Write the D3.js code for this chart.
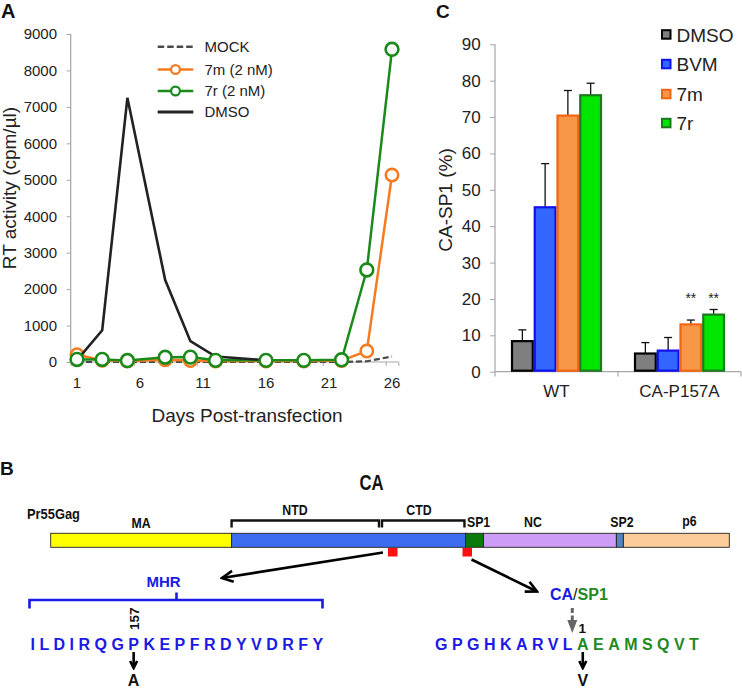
<!DOCTYPE html>
<html><head><meta charset="utf-8">
<script src="https://cdn.jsdelivr.net/npm/d3@7"></script>
<style>
body{margin:0;background:#fff;}
svg{display:block;font-family:"Liberation Sans",Arial,Helvetica,sans-serif;}
</style></head><body>
<svg id="chart" width="742" height="689"></svg>
<script>
// ---------- Panel A data ----------
const sampleDays = [1,3,5,8,10,12,16,19,22,24,26];
const mockRT = [0,0,0,0,0,0,0,0,0,20,150];
const rt7m = [200,50,30,60,40,30,30,30,40,300,5130];
const rt7r = [70,70,40,130,135,45,45,45,60,2525,8580];
const dmsoDays = [1,3,5,8,10,12,16];
const dmsoRT = [50,870,7250,2250,570,150,50];
const dayTickLabels = [1,6,11,16,21,26];
const dayTickMarks = [0.5,5.5,10.5,15.5,20.5,25.5,26.5];
const rtTicks = [0,1000,2000,3000,4000,5000,6000,7000,8000,9000];
const legendA = ["MOCK","7m (2 nM)","7r (2 nM)","DMSO"];

// ---------- Panel C data ----------
const cCategories = ["WT","CA-P157A"];
const cSeries = ["DMSO","BVM","7m","7r"];
const caDMSO = [8.4, 5.0];
const caBVM  = [45.2, 5.8];
const ca7m   = [70.4, 13.0];
const ca7r   = [76.0, 15.7];
const errDMSO = [3.1, 3.0];
const errBVM  = [12.0, 3.6];
const err7m   = [6.9, 1.2];
const err7r   = [3.3, 1.4];
const sigP157A = ["", "", "**", "**"];
const cTicks = [0,10,20,30,40,50,60,70,80,90];

// ---------- Panel B data ----------
const gagDomains = ["MA","CA","SP1","NC","SP2","p6"];
const gagLengths = [181,234,18,133,7,106];
const mhrSeq = "ILDIRQGPKEPFRDYVDRFY";
const seqCA = "GPGHKARVL";
const seqSP1 = "AEAMSQVT";

const svg = d3.select("#chart");
const FONT = '"Liberation Sans",Arial,Helvetica,sans-serif';

// markers
const defs = svg.append("defs");
function mk(id, size, color, sw){
  defs.append("marker").attr("id",id).attr("viewBox",`0 0 ${size} ${size}`)
    .attr("refX",size-2).attr("refY",size/2).attr("markerWidth",size).attr("markerHeight",size)
    .attr("markerUnits","userSpaceOnUse").attr("orient","auto")
    .append("path").attr("d",`M2,2 L${size-2},${size/2} L2,${size-2}`)
    .attr("fill","none").attr("stroke",color).attr("stroke-width",sw).attr("stroke-linejoin","miter");
}
mk("arrBig",15,"#000",2.6);
mk("arrSmall",11,"#000",2.6);

// ================= PANEL A =================
const xA = d3.scaleLinear().domain([0.5,26.5]).range([70.7,398.3]);
const yA = d3.scaleLinear().domain([0,9000]).range([362,34]);
const gA = svg.append("g");
gA.append("text").text("A").attr("x",1).attr("y",18).attr("font-weight","bold").attr("font-size",20).attr("fill","#111");

const axYA = gA.append("g").attr("transform","translate(70.7,0)")
  .call(d3.axisLeft(yA).tickValues(rtTicks).tickSize(4).tickPadding(9.7).tickFormat(d3.format("d")));
const axXA = gA.append("g").attr("transform","translate(0,362)")
  .call(d3.axisBottom(xA).tickValues(dayTickMarks).tickSize(4).tickFormat(""));
[axYA,axXA].forEach(a=>{a.select(".domain").attr("stroke","#a6a6a6").attr("stroke-width",1.2);
  a.selectAll(".tick line").attr("stroke","#a6a6a6");
  a.selectAll("text").attr("font-size",15).attr("fill","#222").attr("font-family",FONT);});
axXA.select(".domain").attr("d",`M${xA(0.5)},0H${xA(26.5)}`);
axYA.select(".domain").attr("d",`M0,${yA(9000)}V${yA(0)}`);
gA.selectAll(".xl").data(dayTickLabels).enter().append("text")
  .attr("x",d=>xA(d)).attr("y",388).attr("text-anchor","middle").attr("font-size",15).attr("fill","#222").text(d=>d);

gA.append("text").attr("transform","translate(15.5,188) rotate(-90)").attr("text-anchor","middle")
  .attr("font-size",19).attr("fill","#222").text("RT activity (cpm/µl)");
gA.append("text").attr("x",247).attr("y",422).attr("text-anchor","middle")
  .attr("font-size",19).attr("fill","#222").text("Days Post-transfection");

const lineA = d3.line().x(d=>xA(d[0])).y(d=>yA(d[1]));
const colA = {mock:"#4a4a4a", m:"#f47b20", r:"#1b8a1b", dmso:"#222"};
// MOCK
gA.append("path").attr("d",lineA(sampleDays.map((d,i)=>[d,mockRT[i]])))
  .attr("fill","none").attr("stroke",colA.mock).attr("stroke-width",2.2).attr("stroke-dasharray","6,3");
// 7m
gA.append("path").attr("d",lineA(sampleDays.map((d,i)=>[d,rt7m[i]])))
  .attr("fill","none").attr("stroke",colA.m).attr("stroke-width",2.5);
gA.selectAll(".c7m").data(sampleDays).enter().append("circle")
  .attr("cx",d=>xA(d)).attr("cy",(d,i)=>yA(rt7m[i])).attr("r",6.2)
  .attr("fill","#fff").attr("stroke",colA.m).attr("stroke-width",2.6);
// 7r
gA.append("path").attr("d",lineA(sampleDays.map((d,i)=>[d,rt7r[i]])))
  .attr("fill","none").attr("stroke",colA.r).attr("stroke-width",2.5);
// DMSO
gA.append("path").attr("d",lineA(dmsoDays.map((d,i)=>[d,dmsoRT[i]])))
  .attr("fill","none").attr("stroke",colA.dmso).attr("stroke-width",2.6);
gA.selectAll(".c7r").data(sampleDays).enter().append("circle")
  .attr("cx",d=>xA(d)).attr("cy",(d,i)=>yA(rt7r[i])).attr("r",6.4)
  .attr("fill","#fff").attr("stroke",colA.r).attr("stroke-width",2.6);

// legend A
const legRowsA = [46.7,69.5,91,112];
legendA.forEach((name,i)=>{
  const y = legRowsA[i];
  const col = [colA.mock,colA.m,colA.r,colA.dmso][i];
  const l = gA.append("line").attr("x1",157.7).attr("x2",193.3).attr("y1",y).attr("y2",y)
    .attr("stroke",col).attr("stroke-width",i===3?2.8:2.4);
  if(i===0) l.attr("stroke-dasharray","6.5,3");
  if(i===1||i===2) gA.append("circle").attr("cx",175.5).attr("cy",y).attr("r",4.4)
    .attr("fill","#fff").attr("stroke",col).attr("stroke-width",2.2);
  gA.append("text").attr("x",204.5).attr("y",y).attr("dy","0.36em").attr("font-size",15)
    .attr("fill","#222").text(name);
});

// ================= PANEL C =================
const gC = svg.append("g");
gC.append("text").text("C").attr("x",436).attr("y",18).attr("font-weight","bold").attr("font-size",19).attr("fill","#111");
const x0C = d3.scaleBand().domain(cCategories).range([495,741]);
const x1C = d3.scaleBand().domain(cSeries).range([16,107]);
const yC = d3.scaleLinear().domain([0,90]).range([371.7,44.3]);
const axYC = gC.append("g").attr("transform","translate(495,0)")
  .call(d3.axisLeft(yC).tickValues(cTicks).tickSize(5).tickPadding(9.3));
const axXC = gC.append("g").attr("transform","translate(0,371.7)")
  .call(d3.axisBottom(x0C).tickSize(0).tickFormat(""));
[axYC,axXC].forEach(a=>{a.select(".domain").attr("stroke","#a6a6a6").attr("stroke-width",1.2);
  a.selectAll(".tick line").attr("stroke","#a6a6a6");
  a.selectAll("text").attr("font-size",17).attr("fill","#222").attr("font-family",FONT);});
axYC.select(".domain").attr("d",`M0,${yC(90)}V${yC(0)}`);
axXC.select(".domain").attr("d",`M495,0H741`);
gC.selectAll(".xt").data([x0C.range()[0], x0C("CA-P157A"), x0C.range()[1]]).enter().append("line")
  .attr("x1",d=>d).attr("x2",d=>d).attr("y1",371.7).attr("y2",376.5).attr("stroke","#a6a6a6").attr("stroke-width",1.2);
gC.selectAll(".cl").data(cCategories).enter().append("text")
  .attr("x",d=>x0C(d)+x0C.bandwidth()/2).attr("y",396.7).attr("text-anchor","middle")
  .attr("font-size",17).attr("fill","#222").text(d=>d);
gC.append("text").attr("transform","translate(452,200) rotate(-90)").attr("text-anchor","middle")
  .attr("font-size",19).attr("fill","#222").text("CA-SP1 (%)");

const valsC = [caDMSO,caBVM,ca7m,ca7r];
const errsC = [errDMSO,errBVM,err7m,err7r];
const fillC = ["#7f7f7f","#3366ff","#f79646","#00e600"];
const strokeC = ["#000","#1010f0","#f26510","#1c7a1c"];
const sigTop = d3.max(cSeries.map((s,si)=>sigP157A[si] ? valsC[si][1]+errsC[si][1] : 0));
cCategories.forEach((cat,ci)=>{
  cSeries.forEach((s,si)=>{
    const v = valsC[si][ci], e = errsC[si][ci];
    const bx = x0C(cat)+x1C(s), bw = x1C.bandwidth();
    const cx = bx+bw/2;
    gC.append("line").attr("x1",cx).attr("x2",cx).attr("y1",yC(v)).attr("y2",yC(v+e)).attr("stroke","#111").attr("stroke-width",1.3);
    gC.append("line").attr("x1",cx-4).attr("x2",cx+4).attr("y1",yC(v+e)).attr("y2",yC(v+e)).attr("stroke","#111").attr("stroke-width",1.3);
    gC.append("rect").attr("x",bx+1).attr("y",yC(v)).attr("width",bw-2).attr("height",yC(0)-yC(v)-1)
      .attr("fill",fillC[si]).attr("stroke",strokeC[si]).attr("stroke-width",2.2);
    if(ci===1 && sigP157A[si]){
      gC.append("text").attr("x",cx).attr("y",yC(sigTop)-6).attr("text-anchor","middle")
        .attr("font-size",14).attr("fill","#222").text(sigP157A[si]);
    }
  });
});
// legend C
const legRowsC = [34.7,64.3,94.3,123.3];
cSeries.forEach((s,i)=>{
  gC.append("rect").attr("x",662).attr("y",legRowsC[i]-4.5).attr("width",8.5).attr("height",8.5)
    .attr("fill",fillC[i]).attr("stroke",strokeC[i]).attr("stroke-width",2);
  gC.append("text").attr("x",676.5).attr("y",legRowsC[i]).attr("dy","0.36em").attr("font-size",19)
    .attr("fill","#222").text(s);
});

// ================= PANEL B =================
const gB = svg.append("g");
gB.append("text").text("B").attr("x",0).attr("y",475).attr("font-weight","bold").attr("font-size",19).attr("fill","#111");
function lbl(t,x,y,fs,anchor,sx){
  return gB.append("text").attr("transform",`translate(${x},${y}) scale(${sx||1},1)`)
    .attr("text-anchor",anchor||"middle").attr("font-weight","bold").attr("font-size",fs).attr("fill","#111").text(t);
}
lbl("CA",371.5,490,22,"middle",0.76);
lbl("Pr55Gag",27,519,14,"start",0.92);
lbl("NTD",295,515,14,"middle",0.88);
lbl("CTD",419,515,14,"middle",0.88);

const cum = gagLengths.reduce((a,l)=>{a.push(a[a.length-1]+l);return a;},[0]);
const xB = d3.scaleLinear().domain([0,cum[cum.length-1]]).range([50.7,729.3]);
const gagFill = ["#ffff00","#3d6cf0","#0a7a0a","#cc9cf6","#5383c0","#fccd9b"];
const barY = 533.3, barH = 14;
gagDomains.forEach((d,i)=>{
  gB.append("rect").attr("x",xB(cum[i])).attr("y",barY).attr("width",xB(cum[i+1])-xB(cum[i])).attr("height",barH)
    .attr("fill",gagFill[i]).attr("stroke","#222").attr("stroke-width",0.9);
});
lbl("MA",(xB(cum[0])+xB(cum[1]))/2,528,14,"middle",0.88);
lbl("SP1",xB(cum[2])+1.5,527,14,"start",0.88);
lbl("NC",(xB(cum[3])+xB(cum[4]))/2-17,527,14,"middle",0.88);
lbl("SP2",(xB(cum[4])+xB(cum[5]))/2+2,527,14,"middle",0.88);
lbl("p6",(xB(cum[5])+xB(cum[6]))/2+13,526,14,"middle",0.88);

// NTD / CTD brackets
const caStart = xB(cum[1]), caEnd = xB(cum[2]);
const brkY = 520.5;
gB.append("path").attr("d",`M${caStart},${brkY+7}V${brkY}H${379}V${brkY+7}`)
  .attr("fill","none").attr("stroke","#111").attr("stroke-width",2.4);
gB.append("path").attr("d",`M${382},${brkY+7}V${brkY}H${caEnd-1}V${brkY+7}`)
  .attr("fill","none").attr("stroke","#111").attr("stroke-width",2.4);

// red marks
[[388,548],[462.5,548]].forEach(p=>{
  gB.append("rect").attr("x",p[0]).attr("y",p[1]).attr("width",9.5).attr("height",8.5).attr("fill","#ff1010");
});
gB.append("line").attr("x1",383).attr("y1",552.5).attr("x2",222).attr("y2",578)
  .attr("stroke","#000").attr("stroke-width",2.6).attr("marker-end","url(#arrBig)");
gB.append("line").attr("x1",471.5).attr("y1",559.5).attr("x2",537).attr("y2",591.5)
  .attr("stroke","#000").attr("stroke-width",2.6).attr("marker-end","url(#arrBig)");

// MHR
const blueT = "#1a1ae6", greenT = "#1f8a1f";
gB.append("text").attr("x",163.5).attr("y",586.5).attr("text-anchor","middle").attr("font-weight","bold")
  .attr("font-size",15).attr("fill",blueT).text("MHR");
gB.append("path").attr("d","M29.5,608.5V600H322.5V608.5M176.5,600V592.5")
  .attr("fill","none").attr("stroke",blueT).attr("stroke-width",2.6);

const seq1 = gB.append("text").attr("x",30.5).attr("y",650).attr("font-weight","bold").attr("font-size",16)
  .attr("letter-spacing",4.45).attr("fill",blueT).text(mhrSeq);
const seq2 = gB.append("text").attr("x",435).attr("y",650).attr("font-weight","bold").attr("font-size",16)
  .attr("letter-spacing",4.45);
seq2.append("tspan").attr("fill",blueT).text(seqCA);
seq2.append("tspan").attr("fill",greenT).text(seqSP1);

function charCenter(node, idx, fallback){
  try { const b = node.getExtentOfChar(idx); return b.x + (b.width - 4.45)/2; } catch(e){ return fallback; }
}
const pX = charCenter(seq1.node(), mhrSeq.indexOf("P"), 134);
const aX = charCenter(seq2.node(), seqCA.length, 582);

gB.append("text").attr("transform",`translate(${pX+5},630) rotate(-90)`).attr("font-weight","bold")
  .attr("font-size",13.5).attr("fill","#111").text("157");
gB.append("line").attr("x1",pX).attr("x2",pX).attr("y1",652).attr("y2",668)
  .attr("stroke","#000").attr("stroke-width",2.6).attr("marker-end","url(#arrSmall)");
gB.append("text").attr("x",pX).attr("y",686).attr("text-anchor","middle").attr("font-weight","bold")
  .attr("font-size",16).attr("fill","#111").text("A");

const casp = gB.append("text").attr("x",550).attr("y",600).attr("font-weight","bold").attr("font-size",16);
casp.append("tspan").attr("fill",blueT).text("CA");
casp.append("tspan").attr("fill","#111").attr("font-weight","normal").text("/");
casp.append("tspan").attr("fill",greenT).text("SP1");

const gx = aX - 10.5;
gB.append("line").attr("x1",gx).attr("x2",gx).attr("y1",608).attr("y2",622)
  .attr("stroke","#666").attr("stroke-width",3).attr("stroke-dasharray","5,2.5");
gB.append("path").attr("d",`M${gx-5},620 L${gx+5},620 L${gx},633Z`).attr("fill","#666");
gB.append("text").attr("x",gx+10).attr("y",632.5).attr("text-anchor","middle").attr("font-weight","bold")
  .attr("font-size",13.5).attr("fill","#111").text("1");
gB.append("line").attr("x1",aX).attr("x2",aX).attr("y1",652).attr("y2",668)
  .attr("stroke","#000").attr("stroke-width",2.6).attr("marker-end","url(#arrSmall)");
gB.append("text").attr("x",aX).attr("y",686).attr("text-anchor","middle").attr("font-weight","bold")
  .attr("font-size",16).attr("fill","#111").text("V");
</script>
</body></html>
